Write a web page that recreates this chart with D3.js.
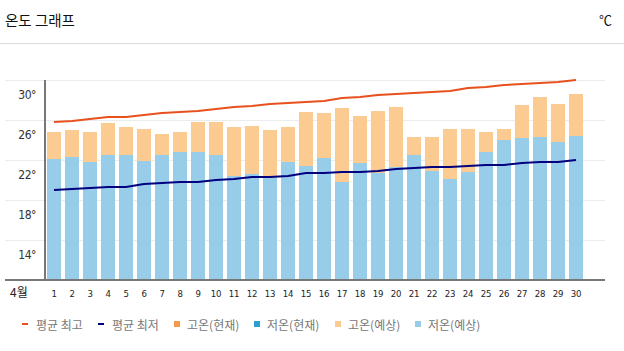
<!DOCTYPE html>
<html>
<head>
<meta charset="utf-8">
<script src="https://cdn.jsdelivr.net/npm/d3@7"></script>
<style>
    body { margin: 0; background: #fff; }
    text { font-family: "Noto Sans CJK KR", "Noto Sans", sans-serif; }
</style>
</head>
<body>
<svg width="624" height="351"></svg>
<script>
const days = d3.range(1, 31)
const avgHigh = [25.8, 25.9, 26.1, 26.3, 26.3, 26.5, 26.7, 26.8, 26.9, 27.1, 27.3, 27.4, 27.6, 27.7, 27.8,
    27.9, 28.2, 28.3, 28.5, 28.6, 28.7, 28.8, 28.9, 29.2, 29.3, 29.5, 29.6, 29.7, 29.8, 30.0]
const avgLow = [19.0, 19.1, 19.2, 19.3, 19.3, 19.6, 19.7, 19.8, 19.8, 20.0, 20.1, 20.3, 20.3, 20.4, 20.7,
    20.7, 20.8, 20.8, 20.9, 21.1, 21.2, 21.3, 21.3, 21.4, 21.5, 21.5, 21.7, 21.8, 21.8, 22.0]
const highForecast = [24.8, 25.0, 24.8, 25.7, 25.3, 25.1, 24.6, 24.8, 25.8, 25.8, 25.3, 25.4, 25.0, 25.3, 26.8,
    26.7, 27.2, 26.4, 26.9, 27.3, 24.3, 24.3, 25.1, 25.1, 24.8, 25.1, 27.5, 28.3, 27.6, 28.6]
const lowForecast = [22.1, 22.3, 21.8, 22.5, 22.5, 21.9, 22.5, 22.8, 22.8, 22.5, 20.4, 20.6, 20.2, 21.8, 21.4,
    22.2, 19.8, 21.7, 20.7, 21.3, 22.5, 20.9, 20.1, 20.8, 22.8, 24.0, 24.2, 24.3, 23.8, 24.4]
const yTicks = [14, 18, 22, 26, 30]
const legendItems = [
    {name: "평균 최고", type: "line", color: "#e8501e"},
    {name: "평균 최저", type: "line", color: "#000080"},
    {name: "고온(현재)", type: "rect", color: "#f5994c"},
    {name: "저온(현재)", type: "rect", color: "#2b9fd3"},
    {name: "고온(예상)", type: "rect", color: "#fbcb92"},
    {name: "저온(예상)", type: "rect", color: "#98cdea"}
]

let svg = d3.select("svg")

// header
svg.append("text").attr("x", 5).attr("y", 26).attr("font-size", 14.5).attr("fill", "#111").text("온도 그래프")
svg.append("text").attr("x", 612).attr("y", 25).attr("font-size", 13).attr("fill", "#111")
    .attr("text-anchor", "end").text("℃")
svg.append("line").attr("x1", 0).attr("x2", 624).attr("y1", 43.5).attr("y2", 43.5)
    .attr("stroke", "#dcdcdc")

let x = d3.scaleBand().domain(days).range([45, 585]).paddingInner(0.22).paddingOuter(0.11)
let y = d3.scaleLinear().domain([10, 30]).range([280, 80])

// grid
svg.selectAll(".grid").data(yTicks).enter().append("line")
    .attr("x1", 5).attr("x2", 605)
    .attr("y1", d => y(d) + 0.5).attr("y2", d => y(d) + 0.5)
    .attr("stroke", "#ececec")

svg.selectAll(".ylab").data(yTicks).enter().append("text")
    .attr("x", 36).attr("y", d => y(d) + 19)
    .attr("text-anchor", "end").attr("font-size", 12).attr("fill", "#333")
    .style("font-family", "'DejaVu Sans Condensed', sans-serif")
    .style("letter-spacing", "-0.5px")
    .text(d => d + "°")

// bars
svg.selectAll(".low").data(days).enter().append("rect")
    .attr("x", d => x(d)).attr("width", x.bandwidth())
    .attr("y", (d, i) => y(lowForecast[i]))
    .attr("height", (d, i) => y(10) - y(lowForecast[i]))
    .attr("fill", "#98cdea")

svg.selectAll(".high").data(days).enter().append("rect")
    .attr("x", d => x(d)).attr("width", x.bandwidth())
    .attr("y", (d, i) => y(highForecast[i]))
    .attr("height", (d, i) => y(lowForecast[i]) - y(highForecast[i]))
    .attr("fill", "#fbcb92")

// axes
svg.append("line").attr("x1", 45).attr("x2", 45).attr("y1", 80).attr("y2", 280)
    .attr("stroke", "#777").attr("stroke-width", 2)
svg.append("line").attr("x1", 5).attr("x2", 605).attr("y1", 280).attr("y2", 280)
    .attr("stroke", "#777").attr("stroke-width", 2)

// lines
let line = d3.line()
    .x((d, i) => x(days[i]) + x.bandwidth() / 2)
    .y(d => y(d))

svg.append("path").datum(avgHigh).attr("d", line)
    .attr("fill", "none").attr("stroke", "#e8501e").attr("stroke-width", 2)
svg.append("path").datum(avgLow).attr("d", line)
    .attr("fill", "none").attr("stroke", "#000080").attr("stroke-width", 2)

// x labels
svg.append("text").attr("x", 10).attr("y", 297).attr("font-size", 12).attr("fill", "#222").text("4월")
svg.selectAll(".xlab").data(days).enter().append("text")
    .attr("x", d => x(d) + x.bandwidth() / 2).attr("y", 297)
    .attr("text-anchor", "middle").attr("font-size", 9.5).attr("fill", "#222")
    .style("font-family", "'DejaVu Sans Condensed', sans-serif")
    .style("letter-spacing", "-0.3px")
    .text(d => d)

// legend
let legendX = [22, 98, 174, 254, 335, 415]
let lg = svg.selectAll(".legend").data(legendItems).enter().append("g")
    .attr("transform", (d, i) => "translate(" + legendX[i] + ", 324)")

lg.filter(d => d.type === "line").append("rect")
    .attr("x", 0).attr("y", -1).attr("width", 6).attr("height", 2)
    .attr("fill", d => d.color)
lg.filter(d => d.type === "rect").append("rect")
    .attr("x", 0).attr("y", -3).attr("width", 6).attr("height", 6)
    .attr("fill", d => d.color)
lg.append("text")
    .attr("x", d => d.type === "line" ? 14 : 13).attr("y", 0)
    .attr("dominant-baseline", "central")
    .attr("font-size", 12).attr("fill", "#777")
    .text(d => d.name)
</script>
</body>
</html>
